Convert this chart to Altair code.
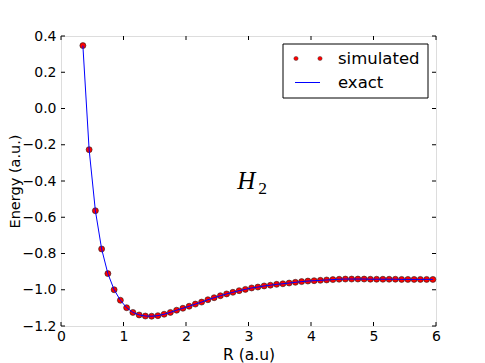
import altair as alt
import pandas as pd

# ---- data ----
R = [0.35, 0.45, 0.55, 0.65, 0.75, 0.85, 0.95, 1.05, 1.15, 1.25,
     1.35, 1.45, 1.55, 1.65, 1.75, 1.85, 1.95, 2.05, 2.15, 2.25,
     2.35, 2.45, 2.55, 2.65, 2.75, 2.85, 2.95, 3.05, 3.15, 3.25,
     3.35, 3.45, 3.55, 3.65, 3.75, 3.85, 3.95, 4.05, 4.15, 4.25,
     4.35, 4.45, 4.55, 4.65, 4.75, 4.85, 4.95, 5.05, 5.15, 5.25,
     5.35, 5.45, 5.55, 5.65, 5.75, 5.85, 5.95]
E_sim = [0.347, -0.227, -0.564, -0.775, -0.911, -1.000, -1.058, -1.099, -1.125, -1.139,
         -1.145, -1.146, -1.143, -1.135, -1.125, -1.113, -1.102, -1.091, -1.079, -1.068,
         -1.055, -1.044, -1.033, -1.023, -1.014, -1.005, -0.998, -0.990, -0.985, -0.979,
         -0.975, -0.970, -0.967, -0.963, -0.959, -0.955, -0.952, -0.950, -0.948, -0.946,
         -0.944, -0.942, -0.941, -0.941, -0.941, -0.941, -0.942, -0.942, -0.942, -0.942,
         -0.942, -0.943, -0.943, -0.943, -0.943, -0.943, -0.943]
E_exact = [0.347, -0.227, -0.564, -0.775, -0.911, -1.000, -1.058, -1.099, -1.125, -1.139,
           -1.145, -1.146, -1.143, -1.135, -1.125, -1.113, -1.102, -1.091, -1.079, -1.068,
           -1.055, -1.044, -1.033, -1.023, -1.014, -1.005, -0.998, -0.990, -0.985, -0.979,
           -0.975, -0.970, -0.967, -0.963, -0.959, -0.955, -0.952, -0.950, -0.948, -0.946,
           -0.944, -0.942, -0.941, -0.941, -0.941, -0.941, -0.942, -0.942, -0.942, -0.942,
           -0.942, -0.943, -0.943, -0.943, -0.943, -0.943, -0.943]
x_ticks = [0, 1, 2, 3, 4, 5, 6]
y_ticks = [-1.2, -1.0, -0.8, -0.6, -0.4, -0.2, 0.0, 0.2, 0.4]
legend_labels = ["simulated", "exact"]
annot_x = [2.82]
annot_y = [-0.444]
annot_main = ["H"]
annot_sub = ["2"]

W, H = 375, 290
FONT = "DejaVu Sans"

sim_df = pd.DataFrame({"R": R, "E": E_sim})
ex_df = pd.DataFrame({"R": R, "E": E_exact})
xt_df = pd.DataFrame({"t": x_ticks})
yt_df = pd.DataFrame({"t": y_ticks})
ann_df = pd.DataFrame({"x": annot_x, "y": annot_y, "m": annot_main, "s": annot_sub})
leg_df = pd.DataFrame({"label": legend_labels})

xscale = alt.Scale(domain=[0, 6], nice=False, zero=False)
yscale = alt.Scale(domain=[-1.2, 0.4], nice=False, zero=False)

xaxis = alt.Axis(values=x_ticks, format="d", title="R (a.u)", grid=False, domain=False,
                 ticks=False, labelPadding=3, labelFlush=False, labelFontSize=14,
                 titleFontSize=15.5, titleBaseline="alphabetic", titleY=33.3,
                 labelFont=FONT, titleFont=FONT,
                 titleFontWeight="normal", labelColor="black", titleColor="black",
                 labelOverlap=False)
yaxis = alt.Axis(values=y_ticks, format=".1f", title="Energy (a.u.)", grid=False, domain=False,
                 ticks=False, labelPadding=5, labelFlush=False, labelFontSize=14,
                 titleFontSize=14.5, titleBaseline="alphabetic", titleX=-42,
                 labelFont=FONT, titleFont=FONT,
                 titleFontWeight="normal", labelColor="black", titleColor="black",
                 labelBound=False, labelOverlap=False)


def X(f):
    return alt.X(f, scale=xscale, axis=xaxis, title="R (a.u)")


def Y(f):
    return alt.Y(f, scale=yscale, axis=yaxis, title="Energy (a.u.)")


points = alt.Chart(sim_df).mark_point(filled=True, fill="red", stroke="#222222",
                                      strokeWidth=0.6, size=36, opacity=1).encode(
    x=X("R:Q"), y=Y("E:Q"))
line = alt.Chart(ex_df).mark_line(color="blue", strokeWidth=1).encode(x=X("R:Q"), y=Y("E:Q"))

# inward ticks
tk = 4
xt_bottom = alt.Chart(xt_df).mark_rule(color="black", strokeWidth=1).encode(
    x=X("t:Q"), y=alt.value(H), y2=alt.value(H - tk))
xt_top = alt.Chart(xt_df).mark_rule(color="black", strokeWidth=1).encode(
    x=X("t:Q"), y=alt.value(0), y2=alt.value(tk))
yt_left = alt.Chart(yt_df).mark_rule(color="black", strokeWidth=1).encode(
    y=Y("t:Q"), x=alt.value(0), x2=alt.value(tk))
yt_right = alt.Chart(yt_df).mark_rule(color="black", strokeWidth=1).encode(
    y=Y("t:Q"), x=alt.value(W), x2=alt.value(W - tk))

# annotation H_2
ann_h = alt.Chart(ann_df).mark_text(font="Liberation Serif", fontStyle="italic", fontSize=25,
                                    align="left", baseline="alphabetic", color="black").encode(
    x=X("x:Q"), y=Y("y:Q"), text="m:N")
ann_s = alt.Chart(ann_df).mark_text(font="Liberation Serif", fontSize=17.5, dx=21, dy=5,
                                    align="left", baseline="alphabetic", color="black").encode(
    x=X("x:Q"), y=Y("y:Q"), text="s:N")

# legend (decoration)
lx0, lx1, ly0, ly1 = 222, 367, 8, 62
one = leg_df.head(1)
leg_box = alt.Chart(one).mark_rect(fill="white", stroke="black", strokeWidth=1).encode(
    x=alt.value(lx0), x2=alt.value(lx1), y=alt.value(ly0), y2=alt.value(ly1))
leg_dot1 = alt.Chart(one).mark_point(filled=True, fill="red", stroke="#222222",
                                     strokeWidth=0.4, size=18, opacity=1).encode(
    x=alt.value(235), y=alt.value(22.5))
leg_dot2 = alt.Chart(one).mark_point(filled=True, fill="red", stroke="#222222",
                                     strokeWidth=0.4, size=18, opacity=1).encode(
    x=alt.value(259), y=alt.value(22.5))
leg_line = alt.Chart(one).mark_rule(color="blue", strokeWidth=1).encode(
    x=alt.value(234), x2=alt.value(259), y=alt.value(46.5))
leg_t1 = alt.Chart(leg_df.iloc[[0]]).mark_text(font=FONT, fontSize=16.5, align="left",
                                               baseline="alphabetic", color="black").encode(
    x=alt.value(277), y=alt.value(28), text="label:N")
leg_t2 = alt.Chart(leg_df.iloc[[1]]).mark_text(font=FONT, fontSize=16.5, align="left",
                                               baseline="alphabetic", color="black").encode(
    x=alt.value(277), y=alt.value(52), text="label:N")

chart = alt.layer(
    points, line, xt_bottom, xt_top, yt_left, yt_right, ann_h, ann_s,
    leg_box, leg_dot1, leg_dot2, leg_line, leg_t1, leg_t2
).properties(
    width=W, height=H,
    autosize=alt.AutoSizeParams(type="none"),
    padding={"left": 53, "top": 28, "right": 20, "bottom": 37},
).configure_view(stroke="black", strokeWidth=1).configure(background="white")

chart.save("out.html", embed_options={"renderer": "svg", "actions": False})
